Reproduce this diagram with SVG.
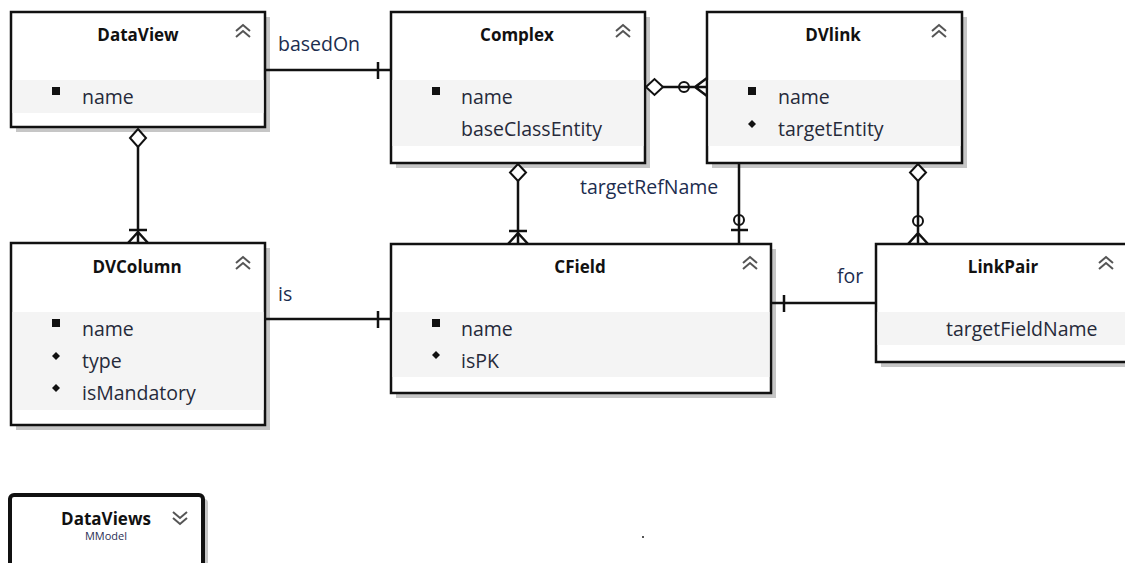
<svg xmlns="http://www.w3.org/2000/svg" width="1125" height="563" viewBox="0 0 1125 563">
<style>
.shadow{fill:#c6c6c6}
.box{fill:#fff;stroke:#111;stroke-width:2.5}
.band{fill:#f4f4f4}
.title{font-family:"Open Sans","Noto Sans",sans-serif;font-weight:bold;font-size:17px;fill:#111;text-anchor:middle}
.attr{font-family:"Open Sans","Noto Sans",sans-serif;font-size:19.5px;fill:#262a3a}
.lbl{font-family:"Open Sans","Noto Sans",sans-serif;font-size:19.5px;fill:#1c2d4f}
.chev{fill:none;stroke:#555;stroke-width:2}
.ln{fill:none;stroke:#111;stroke-width:2.5}
.dia{fill:#fff;stroke:#111;stroke-width:2}
.circ{fill:none;stroke:#111;stroke-width:2}
.sq{fill:#111}
</style>
<defs>
<g id="chevUp"><path class="chev" d="M-7,-1 L0,-7 L7,-1 M-7,5 L0,-1 L7,5"/></g>
<g id="chevDown"><path class="chev" d="M-7,-5 L0,1 L7,-5 M-7,1 L0,7 L7,1"/></g>
<rect id="keyb" x="-4" y="-4" width="8" height="8"/>
<path id="dotb" d="M0,-4 L4,0 L0,4 L-4,0Z"/>
</defs>

<g id="DataView">
<rect class="shadow" x="16" y="17" width="254" height="115"/>
<rect class="box" x="11" y="12" width="254" height="115"/>
<rect class="band" x="12.5" y="80" width="251" height="33"/>
<text class="title" x="138" y="41">DataView</text>
<use href="#chevUp" x="243" y="32"/>
<use href="#keyb" class="sq" x="56" y="91"/>
<text class="attr" x="82" y="104">name</text>
</g>

<g id="Complex">
<rect class="shadow" x="396" y="17" width="254" height="151"/>
<rect class="box" x="391" y="12" width="254" height="151"/>
<rect class="band" x="392.5" y="80" width="251" height="66"/>
<text class="title" x="517" y="41">Complex</text>
<use href="#chevUp" x="623" y="32"/>
<use href="#keyb" class="sq" x="436" y="91"/>
<text class="attr" x="461" y="104">name</text>
<text class="attr" x="461" y="136">baseClassEntity</text>
</g>

<g id="DVlink">
<rect class="shadow" x="712" y="17" width="255" height="151"/>
<rect class="box" x="707" y="12" width="255" height="151"/>
<rect class="band" x="708.5" y="80" width="252" height="66"/>
<text class="title" x="833" y="41">DVlink</text>
<use href="#chevUp" x="939" y="32"/>
<use href="#keyb" class="sq" x="752" y="91"/>
<use href="#dotb" class="sq" x="752" y="124"/>
<text class="attr" x="778" y="104">name</text>
<text class="attr" x="778" y="136">targetEntity</text>
</g>

<g id="DVColumn">
<rect class="shadow" x="16" y="248" width="254" height="182"/>
<rect class="box" x="11" y="243" width="254" height="182"/>
<rect class="band" x="12.5" y="312" width="251" height="98"/>
<text class="title" x="137" y="273">DVColumn</text>
<use href="#chevUp" x="243" y="264"/>
<use href="#keyb" class="sq" x="56" y="323"/>
<use href="#dotb" class="sq" x="56" y="356"/>
<use href="#dotb" class="sq" x="56" y="388"/>
<text class="attr" x="82" y="336">name</text>
<text class="attr" x="82" y="368">type</text>
<text class="attr" x="82" y="400">isMandatory</text>
</g>

<g id="CField">
<rect class="shadow" x="396" y="249" width="380" height="149"/>
<rect class="box" x="391" y="244" width="380" height="149"/>
<rect class="band" x="392.5" y="312" width="377" height="65"/>
<text class="title" x="580" y="273">CField</text>
<use href="#chevUp" x="750" y="264"/>
<use href="#keyb" class="sq" x="436" y="323"/>
<use href="#dotb" class="sq" x="436" y="355"/>
<text class="attr" x="461" y="336">name</text>
<text class="attr" x="461" y="368">isPK</text>
</g>

<g id="LinkPair">
<rect class="shadow" x="881" y="249" width="260" height="118"/>
<rect class="box" x="876" y="244" width="260" height="118"/>
<rect class="band" x="877.5" y="312" width="257" height="33"/>
<text class="title" x="1003" y="273">LinkPair</text>
<use href="#chevUp" x="1106" y="264"/>
<text class="attr" x="946" y="336">targetFieldName</text>
</g>

<g id="DataViews">
<rect class="shadow" x="14" y="499" width="194" height="80" rx="4"/>
<rect x="10" y="495" width="193" height="80" rx="4" fill="#fff" stroke="#111" stroke-width="4"/>
<text class="title" x="106" y="525" style="font-size:17px">DataViews</text>
<text x="106" y="540" text-anchor="middle" style="font-family:'Open Sans','Noto Sans',sans-serif;font-size:11px;fill:#2a2f55">MModel</text>
<use href="#chevDown" x="180" y="517"/>
</g>

<g id="connectors">
<path class="ln" d="M265,70 H391 M378,62 V79"/>
<text class="lbl" x="278" y="51">basedOn</text>
<path class="ln" d="M265,319 H391 M378,311 V328"/>
<text class="lbl" x="278" y="301">is</text>
<path class="ln" d="M771,303 H876 M784,295 V312"/>
<text class="lbl" x="837" y="283">for</text>
<path class="ln" d="M138,147 V243 M129,230 H147 M138,232 L128,243 M138,232 L148,243"/>
<path class="dia" d="M138,129 L146,138 L138,147 L130,138Z"/>
<path class="ln" d="M518,181 V244 M509,231 H527 M518,233 L508,244 M518,233 L528,244"/>
<path class="dia" d="M518,164 L526,172.5 L518,181 L510,172.5Z"/>
<path class="ln" d="M663,87 H707 M695,87 L707,78 M695,87 L707,96"/>
<circle class="circ" cx="684" cy="87" r="5"/>
<path class="dia" d="M646,87 L654.5,79 L663,87 L654.5,95Z"/>
<path class="ln" d="M739,163 V244 M731,230 H748"/>
<circle class="circ" cx="739" cy="220" r="5"/>
<text class="lbl" x="580" y="194">targetRefName</text>
<path class="ln" d="M918,181 V244 M918,233 L908,244 M918,233 L928,244"/>
<circle class="circ" cx="918" cy="221" r="5"/>
<path class="dia" d="M918,164 L926,172.5 L918,181 L910,172.5Z"/>
</g>

<rect x="642" y="536" width="2" height="2" fill="#555"/>
</svg>
